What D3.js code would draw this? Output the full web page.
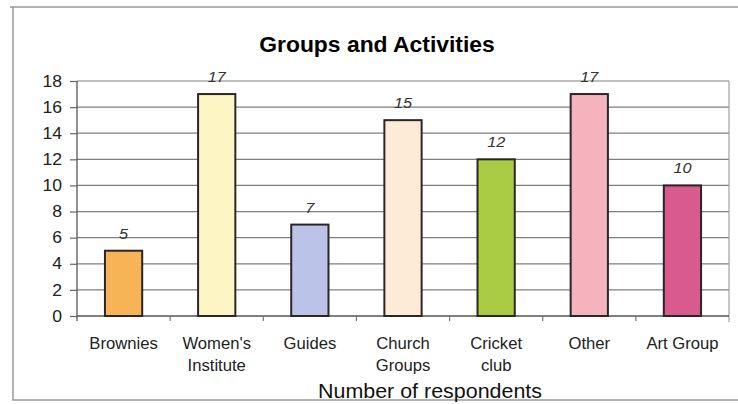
<!DOCTYPE html>
<html>
<head>
<meta charset="utf-8">
<script src="https://cdn.jsdelivr.net/npm/d3@7"></script>
<style>
  html, body { margin: 0; padding: 0; background: #fff; }
  svg { display: block; }
</style>
</head>
<body>
<script>
const categories = ["Brownies", "Women's Institute", "Guides", "Church Groups", "Cricket club", "Other", "Art Group"];
const categoryLines = [["Brownies"], ["Women's", "Institute"], ["Guides"], ["Church", "Groups"], ["Cricket", "club"], ["Other"], ["Art Group"]];
const values = [5, 17, 7, 15, 12, 17, 10];
const barColors = ["#f6b457", "#fdf5c4", "#bcc3e8", "#fdebd8", "#a9cc44", "#f5b3be", "#d95a8c"];
const yTicks = [0, 2, 4, 6, 8, 10, 12, 14, 16, 18];
const title = "Groups and Activities";
const xTitle = "Number of respondents";

(function () {
const W = 738, H = 404;
const svg = d3.select("body").append("svg").attr("width", W).attr("height", H);
const FONT = "Liberation Sans, Arial, sans-serif";

// outer frame
svg.append("path")
  .attr("d", "M10,7 L738,7 M13,7 L13,400 L738,400")
  .attr("fill", "none").attr("stroke", "#9a9a9a").attr("stroke-width", 1.5);

const pL = 77, pR = 729, pT = 81, pB = 316;
const x = d3.scaleBand().domain(categories).range([pL, pR]).paddingInner(0.6).paddingOuter(0.3);
const y = d3.scaleLinear().domain([0, 18]).range([pB, pT]);

// gridlines
svg.append("g").selectAll("line").data(yTicks.filter(d => d > 0)).join("line")
  .attr("x1", pL).attr("x2", pR)
  .attr("y1", d => y(d)).attr("y2", d => y(d))
  .attr("stroke", "#7f7f7f").attr("stroke-width", 1.2);

// right border of plot
svg.append("line").attr("x1", pR).attr("x2", pR).attr("y1", pT).attr("y2", pB + 6)
  .attr("stroke", "#a0a0a0").attr("stroke-width", 1.2);

// y axis
const yAxis = svg.append("g").attr("transform", `translate(${pL},0)`)
  .call(d3.axisLeft(y).tickValues(yTicks).tickSize(7).tickPadding(8));
yAxis.select(".domain").attr("stroke", "#555").attr("stroke-width", 1.3).attr("d", `M0,${pT}V${pB + 5}`);
yAxis.selectAll(".tick line").attr("stroke", "#666").attr("stroke-width", 1.2);
yAxis.selectAll(".tick text")
  .attr("font-family", FONT).attr("font-size", 16).attr("fill", "#222")
  .attr("x", -15 / 1.1).attr("transform", "scale(1.1,1)");

// x axis line and boundary ticks
svg.append("line").attr("x1", pL).attr("x2", pR).attr("y1", pB).attr("y2", pB)
  .attr("stroke", "#555").attr("stroke-width", 1.3);
svg.append("g").selectAll("line").data(categories.slice(1)).join("line")
  .attr("x1", c => x(c) - (x.step() - x.bandwidth()) / 2)
  .attr("x2", c => x(c) - (x.step() - x.bandwidth()) / 2)
  .attr("y1", pB).attr("y2", pB + 5)
  .attr("stroke", "#777").attr("stroke-width", 1.2);

// bars
svg.append("g").selectAll("rect").data(values).join("rect")
  .attr("x", (d, i) => x(categories[i]))
  .attr("y", d => y(d))
  .attr("width", x.bandwidth())
  .attr("height", d => y(0) - y(d))
  .attr("fill", (d, i) => barColors[i])
  .attr("stroke", "#2b2626").attr("stroke-width", 2);

// value labels
svg.append("g").selectAll("text").data(values).join("text")
  .attr("transform", (d, i) => `translate(${x(categories[i]) + x.bandwidth() / 2},${y(d) - 12}) scale(1.08,1)`)
  .attr("text-anchor", "middle")
  .attr("font-family", FONT).attr("font-style", "italic")
  .attr("font-size", 15).attr("fill", "#333")
  .text(d => d);

// category labels
const catG = svg.append("g").selectAll("text").data(categoryLines).join("text")
  .attr("transform", (d, i) => `translate(${x(categories[i]) + x.bandwidth() / 2},349) scale(1.04,1)`)
  .attr("text-anchor", "middle")
  .attr("font-family", FONT)
  .attr("font-size", 16).attr("fill", "#222");
catG.selectAll("tspan").data(d => d).join("tspan")
  .attr("x", 0).attr("dy", (d, j) => j === 0 ? 0 : 22)
  .text(d => d);

// title
svg.append("text").attr("transform", "translate(377,52) scale(1.04,1)").attr("text-anchor", "middle")
  .attr("font-family", FONT).attr("font-weight", "bold")
  .attr("font-size", 22).attr("fill", "#000").text(title);

// x axis title
svg.append("text").attr("transform", "translate(430,398) scale(1.1,1)").attr("text-anchor", "middle")
  .attr("font-family", FONT)
  .attr("font-size", 19.5).attr("fill", "#111").text(xTitle);
})();
</script>
</body>
</html>
